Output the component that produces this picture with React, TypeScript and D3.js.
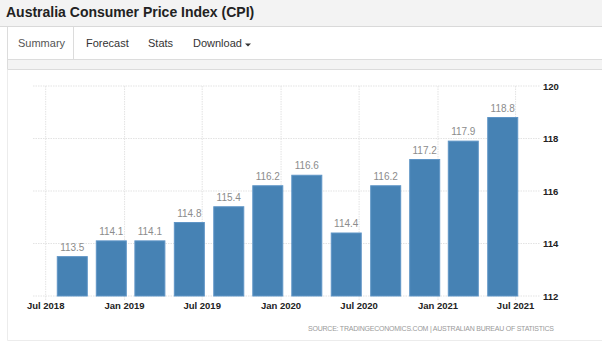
import React from 'react';
import * as d3 from 'd3';

// quarterly CPI, plotted at the last month of each quarter
const quarters = [
    '2018-09-01', '2018-12-01', '2019-03-01', '2019-06-01',
    '2019-09-01', '2019-12-01', '2020-03-01', '2020-06-01',
    '2020-09-01', '2020-12-01', '2021-03-01', '2021-06-01',
];
const cpi = [113.5, 114.1, 114.1, 114.8, 115.4, 116.2, 116.6, 114.4, 116.2, 117.2, 117.9, 118.8];

const xTickDates = ['2018-07-01', '2019-01-01', '2019-07-01', '2020-01-01', '2020-07-01', '2021-01-01', '2021-07-01'];
const xTickLabels = ['Jul 2018', 'Jan 2019', 'Jul 2019', 'Jan 2020', 'Jul 2020', 'Jan 2021', 'Jul 2021'];
const yTicks = [112, 114, 116, 118, 120];

const tabs = ['Summary', 'Forecast', 'Stats', 'Download'];
const tabX = [18, 86, 148, 193];

const W = 602, H = 354;
const FONT = 'Arial, "Liberation Sans", sans-serif';

export default function App() {
    const parse = d3.timeParse('%Y-%m-%d');

    // positions and dimensions
    const plot = {left: 33, right: 540, top: 86, bottom: 296};
    const barWidth = 30;

    const x = d3.scaleTime()
        .domain([parse(xTickDates[0])!, parse(xTickDates[xTickDates.length - 1])!])
        .range([45.7, 515.6]);
    const y = d3.scaleLinear()
        .domain([112, 120])
        .range([plot.bottom, plot.top]);

    const data = quarters.map((q, i) => ({date: parse(q)!, value: cpi[i]}));

    return (
        <svg width={W} height={H} style={{position: 'absolute', left: 0, top: 0}} fontFamily={FONT}>
            <rect width={W} height={H} fill="#fff" />

            {/* header */}
            <rect width={W} height={26} fill="#f3f3f3" />
            <line x1={0} x2={W} y1={26.5} y2={26.5} stroke="#d9d9d9" />
            <text x={6} y={16.5} fontSize={14} fontWeight="bold" fill="#222">
                Australia Consumer Price Index (CPI)
            </text>

            {/* tabs */}
            <path d="M7.5,27 V59.5 M73.5,27 V59.5" stroke="#dcdcdc" fill="none" />
            {tabs.map((t, i) => (
                <text key={t} x={tabX[i]} y={47} fontSize={11} fill={i === 0 ? '#555' : '#333'}>{t}</text>
            ))}
            <path d="M245,43.5 L251,43.5 L248,46.5 Z" fill="#333" />

            {/* grey strip + panel */}
            <rect x={7.5} y={59.5} width={W} height={10} fill="#f4f4f4" stroke="#dcdcdc" />
            <path d={`M7.5,69.5 V340.5 H${W}`} stroke="#ececec" fill="none" />

            {/* horizontal grid */}
            {yTicks.map((t) => (
                <g key={t}>
                    <line x1={plot.left} x2={plot.right} y1={y(t)} y2={y(t)}
                        stroke="#e3e3e3" strokeDasharray="1.5,1" />
                    <text x={543} y={y(t) + 3.5} fontSize={9.5} fontWeight="bold" fill="#222">{t}</text>
                </g>
            ))}

            {/* vertical grid + x axis */}
            {xTickDates.map((d, i) => {
                const xp = x(parse(d)!);
                return (
                    <g key={d}>
                        <line x1={xp} x2={xp} y1={plot.top} y2={plot.bottom + 4}
                            stroke="#e3e3e3" strokeDasharray="1.5,1" />
                        <text x={xp} y={309} fontSize={9.5} fontWeight="bold" fill="#222" textAnchor="middle">
                            {xTickLabels[i]}
                        </text>
                    </g>
                );
            })}

            {/* bars */}
            {data.map((d) => (
                <g key={+d.date}>
                    <rect x={x(d.date) - barWidth / 2} y={y(d.value)}
                        width={barWidth} height={plot.bottom - y(d.value)}
                        fill="#4682b4" stroke="#5f95c6" strokeWidth={1} />
                    <text x={x(d.date)} y={y(d.value) - 6} fontSize={10} fill="#8c8c8c" textAnchor="middle">
                        {d.value.toFixed(1)}
                    </text>
                </g>
            ))}

            <text x={554} y={331} fontSize={7} fill="#9a9a9a" textAnchor="end"
                textLength={246} lengthAdjust="spacing">
                SOURCE: TRADINGECONOMICS.COM | AUSTRALIAN BUREAU OF STATISTICS
            </text>
        </svg>
    );
}
